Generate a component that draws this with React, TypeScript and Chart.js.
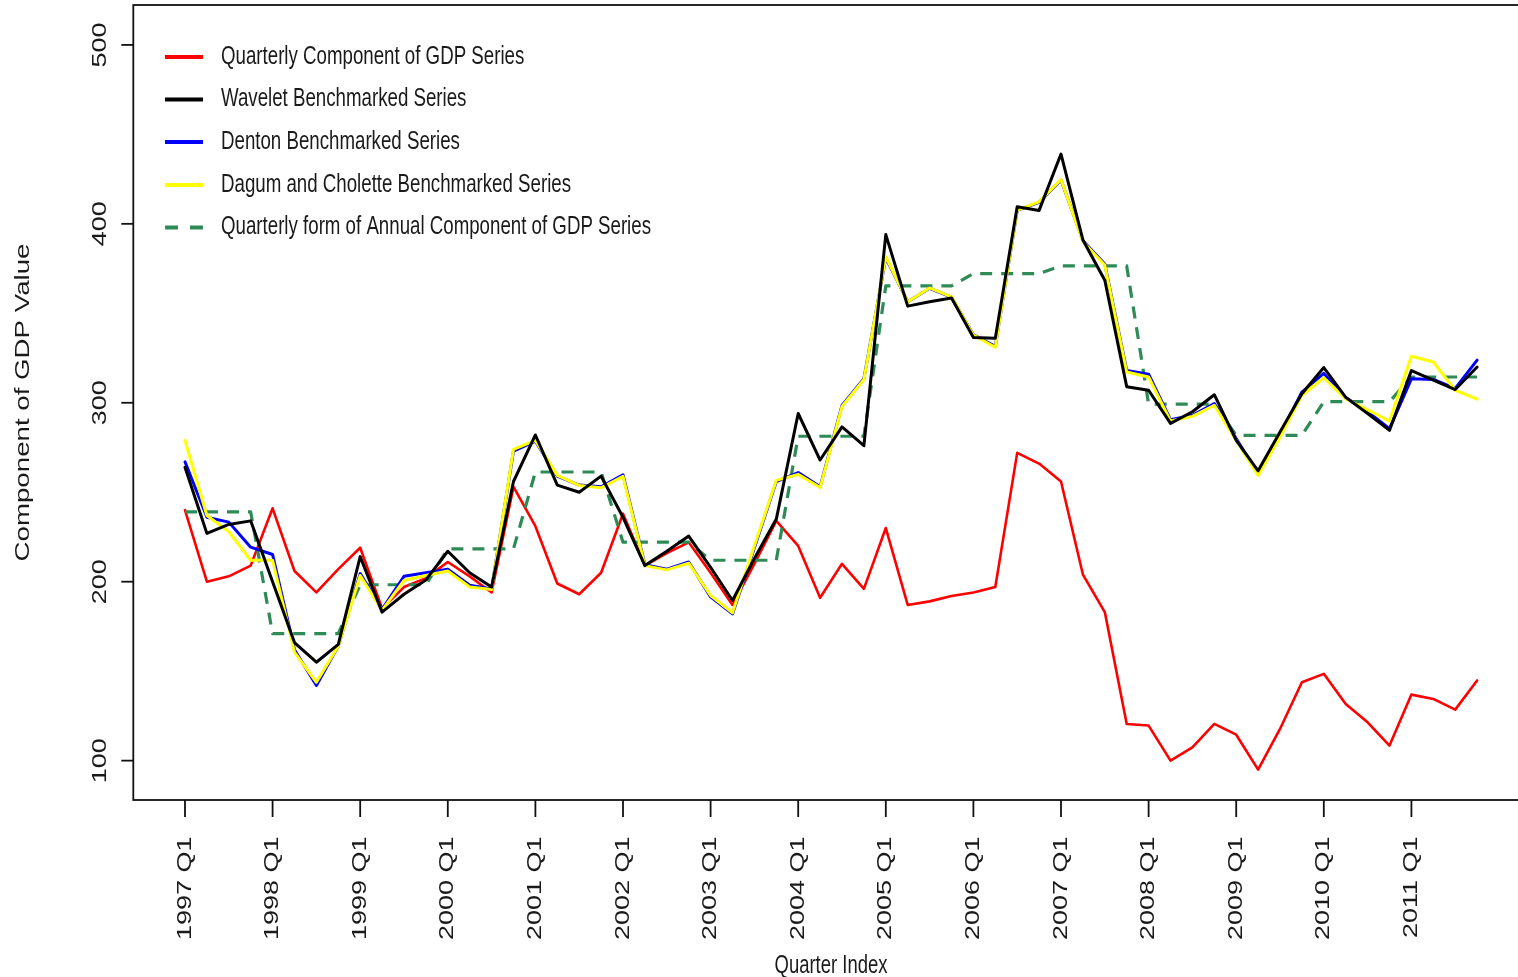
import React, { useEffect, useRef } from "react";
import { Chart, registerables } from "chart.js";

Chart.register(...registerables);

const quarters: string[] = [
  "1997 Q1", "1997 Q2", "1997 Q3", "1997 Q4",
  "1998 Q1", "1998 Q2", "1998 Q3", "1998 Q4",
  "1999 Q1", "1999 Q2", "1999 Q3", "1999 Q4",
  "2000 Q1", "2000 Q2", "2000 Q3", "2000 Q4",
  "2001 Q1", "2001 Q2", "2001 Q3", "2001 Q4",
  "2002 Q1", "2002 Q2", "2002 Q3", "2002 Q4",
  "2003 Q1", "2003 Q2", "2003 Q3", "2003 Q4",
  "2004 Q1", "2004 Q2", "2004 Q3", "2004 Q4",
  "2005 Q1", "2005 Q2", "2005 Q3", "2005 Q4",
  "2006 Q1", "2006 Q2", "2006 Q3", "2006 Q4",
  "2007 Q1", "2007 Q2", "2007 Q3", "2007 Q4",
  "2008 Q1", "2008 Q2", "2008 Q3", "2008 Q4",
  "2009 Q1", "2009 Q2", "2009 Q3", "2009 Q4",
  "2010 Q1", "2010 Q2", "2010 Q3", "2010 Q4",
  "2011 Q1", "2011 Q2", "2011 Q3", "2011 Q4",
];

const quarterlyComponent: number[] = [
  240, 200, 203, 209, 241, 206, 194, 207, 219, 185,
  197, 202, 211, 203, 194, 253, 231, 199, 193, 205,
  238, 209, 216, 222, 205, 187, 210, 234, 220, 191,
  210, 196, 230, 187, 189, 192, 194, 197, 272, 266,
  256, 204, 183, 120.5, 119.6, 100, 107.4, 120.5, 114.5, 95,
  117.7, 143.8, 148.5, 131.7, 121.4, 108.4, 136.9, 134.5, 128.5, 144.8,
];

const waveletSeries: number[] = [
  264, 227, 232, 234, 200, 166, 155, 165, 214, 183,
  193, 201, 217, 205, 197, 256, 282, 254, 250, 259,
  236, 209, 217, 225.5, 208, 189.5, 213, 235, 294, 268,
  286.5, 276, 394, 354, 356.5, 358.5, 336.5, 336, 409.5, 407.5,
  439, 391, 368.5, 309, 307, 288.5, 295, 304.5, 279, 262,
  283.6, 305, 319.7, 303, 294, 284.6, 318, 312.6, 307.4, 320,
];

const dentonSeries: number[] = [
  267, 236, 233.3, 219.3, 215.2, 162, 142, 164, 204.5, 184.5,
  203, 205, 207, 198, 196, 273, 278.5, 259, 254, 253,
  259.8, 209.5, 207, 211, 191.5, 182, 219, 256, 261, 253,
  298.5, 313.5, 381, 356.5, 364, 359, 338, 331.5, 407.5, 412,
  424.5, 390.5, 377.5, 318, 316, 290.5, 293, 299.5, 280, 260,
  282, 306, 316.4, 303, 295, 285.5, 313.4, 313, 308, 323.8,
];

const dagumCholetteSeries: number[] = [
  279, 237, 228, 212, 212, 160.6, 143.8, 164, 203.5, 184,
  200.7, 203.5, 206, 197, 195.7, 274, 279, 259.4, 253.8, 252.5,
  258.9, 209, 206.6, 210.4, 192.3, 182.6, 220, 256.6, 260, 252.6,
  298, 313, 381.6, 356.4, 364.2, 359.2, 337.8, 331, 407.7, 412.3,
  424.8, 390, 377, 317.2, 314.4, 289.8, 292.4, 298.6, 279, 259.4,
  280.8, 304.2, 314, 302.2, 296, 289.8, 326, 322.8, 307, 302,
];

const annualQuarterlyForm: number[] = [
  239, 239, 239, 239,
  171, 171, 171, 171,
  198.3, 198.3, 198.3, 198.3,
  218.4, 218.4, 218.4, 218.4,
  261.3, 261.3, 261.3, 261.3,
  222.1, 222.1, 222.1, 222.1,
  212, 212, 212, 212,
  281.3, 281.3, 281.3, 281.3,
  365.3, 365.3, 365.3, 365.3,
  372.2, 372.2, 372.2, 372.2,
  376.5, 376.5, 376.5, 376.5,
  299.2, 299.2, 299.2, 299.2,
  281.8, 281.8, 281.8, 281.8,
  300.6, 300.6, 300.6, 300.6,
  314.4, 314.4, 314.4, 314.4,
];

const yTickValues: number[] = [100, 200, 300, 400, 500];

const legendLabels: string[] = [
  "Quarterly Component of GDP Series",
  "Wavelet Benchmarked Series",
  "Denton Benchmarked Series",
  "Dagum and Cholette Benchmarked Series",
  "Quarterly form of Annual Component of GDP Series",
];

const FONT = '"Liberation Sans", Arial, Helvetica, sans-serif';
const STRETCH = 1.35;
const TEXT_COLOR = "#1a1a1a";

const legendStyles = [
  { color: "#ff0000", dash: [] as number[] },
  { color: "#000000", dash: [] as number[] },
  { color: "#0000ff", dash: [] as number[] },
  { color: "#ffff00", dash: [] as number[] },
  { color: "#2e8b57", dash: [13, 12] },
];

const toPoints = (arr: number[]) => arr.map((v, i) => ({ x: i, y: v }));

const rAxesPlugin = {
  id: "rAxes",
  afterDraw(chart: any) {
    const { ctx, chartArea } = chart;
    const { left, right, top, bottom } = chartArea;
    const xs = chart.scales.x;
    const ys = chart.scales.y;
    ctx.save();

    // frame
    ctx.strokeStyle = "#111";
    ctx.lineWidth = 1.8;
    ctx.setLineDash([]);
    ctx.strokeRect(left, top, right - left, bottom - top);

    ctx.fillStyle = TEXT_COLOR;

    // x ticks and labels
    ctx.font = `20px ${FONT}`;
    quarters.forEach((q, i) => {
      if (!q.endsWith("Q1")) return;
      const px = xs.getPixelForValue(i);
      ctx.beginPath();
      ctx.moveTo(px, bottom);
      ctx.lineTo(px, bottom + 17);
      ctx.stroke();
      ctx.save();
      ctx.translate(px, bottom + 36.5);
      ctx.scale(1, STRETCH);
      ctx.rotate(-Math.PI / 2);
      ctx.textAlign = "right";
      ctx.textBaseline = "middle";
      ctx.fillText(q, 0, 0);
      ctx.restore();
    });

    // y ticks and labels
    yTickValues.forEach((v) => {
      const py = ys.getPixelForValue(v);
      ctx.beginPath();
      ctx.moveTo(left, py);
      ctx.lineTo(left - 12, py);
      ctx.stroke();
      ctx.save();
      ctx.translate(left - 33, py);
      ctx.scale(1, STRETCH);
      ctx.rotate(-Math.PI / 2);
      ctx.textAlign = "center";
      ctx.textBaseline = "middle";
      ctx.fillText(String(v), 0, 0);
      ctx.restore();
    });

    // axis titles
    ctx.save();
    ctx.font = `18.5px ${FONT}`;
    ctx.translate((left + right) / 2, 966);
    ctx.scale(1, STRETCH);
    ctx.textAlign = "center";
    ctx.textBaseline = "middle";
    ctx.fillText("Quarter Index", 0, 0);
    ctx.restore();

    ctx.save();
    ctx.font = `20.5px ${FONT}`;
    ctx.translate(23, (top + bottom) / 2);
    ctx.scale(1, STRETCH);
    ctx.rotate(-Math.PI / 2);
    ctx.textAlign = "center";
    ctx.textBaseline = "middle";
    ctx.fillText("Component of GDP Value", 0, 0);
    ctx.restore();

    // legend
    const rowYs = [57, 99.5, 142, 185, 227.5];
    legendLabels.forEach((label, k) => {
      const y = rowYs[k];
      const st = legendStyles[k];
      ctx.save();
      ctx.strokeStyle = st.color;
      ctx.lineWidth = 3.8;
      ctx.lineCap = "butt";
      ctx.setLineDash(st.dash);
      ctx.beginPath();
      ctx.moveTo(165, y);
      ctx.lineTo(203, y);
      ctx.stroke();
      ctx.restore();

      ctx.save();
      ctx.font = `18.7px ${FONT}`;
      ctx.fillStyle = TEXT_COLOR;
      ctx.translate(221, y);
      ctx.scale(1, STRETCH);
      ctx.textAlign = "left";
      ctx.textBaseline = "middle";
      ctx.fillText(label, 0, 0);
      ctx.restore();
    });

    ctx.restore();
  },
};

export default function App() {
  const canvasRef = useRef<HTMLCanvasElement | null>(null);

  useEffect(() => {
    document.body.style.margin = "0";
    const canvas = canvasRef.current;
    if (!canvas) return;
    const common = {
      pointRadius: 0,
      pointHoverRadius: 0,
      tension: 0,
      fill: false,
      borderJoinStyle: "round" as const,
      borderCapStyle: "round" as const,
    };
    const chart = new Chart(canvas, {
      type: "line",
      data: {
        datasets: [
          {
            ...common,
            label: legendLabels[0],
            data: toPoints(quarterlyComponent),
            borderColor: "#ff0000",
            borderWidth: 2.6,
            order: 5,
          },
          {
            ...common,
            label: legendLabels[1],
            data: toPoints(waveletSeries),
            borderColor: "#000000",
            borderWidth: 3,
            order: 0,
          },
          {
            ...common,
            label: legendLabels[2],
            data: toPoints(dentonSeries),
            borderColor: "#0000ff",
            borderWidth: 3,
            order: 3,
          },
          {
            ...common,
            label: legendLabels[3],
            data: toPoints(dagumCholetteSeries),
            borderColor: "#ffff00",
            borderWidth: 3,
            order: 2,
          },
          {
            ...common,
            label: legendLabels[4],
            data: toPoints(annualQuarterlyForm),
            borderColor: "#2e8b57",
            borderWidth: 3.2,
            borderDash: [12, 9],
            borderCapStyle: "butt" as const,
            order: 4,
          },
        ],
      },
      options: {
        responsive: false,
        animation: false,
        events: [],
        layout: {
          padding: { left: 133.3, right: 1540 - 1528.8, top: 5, bottom: 977 - 800 },
        },
        plugins: {
          legend: { display: false },
          tooltip: { enabled: false },
        },
        scales: {
          x: { type: "linear", display: false, min: -2.36, max: 61.36 },
          y: { type: "linear", display: false, min: 78, max: 522.3 },
        },
      },
      plugins: [rAxesPlugin],
    });
    return () => chart.destroy();
  }, []);

  return (
    <div
      style={{
        position: "absolute",
        left: 0,
        top: 0,
        width: 1518,
        height: 977,
        overflow: "hidden",
        background: "#ffffff",
      }}
    >
      <canvas ref={canvasRef} width={1540} height={977} style={{ display: "block" }} />
    </div>
  );
}
